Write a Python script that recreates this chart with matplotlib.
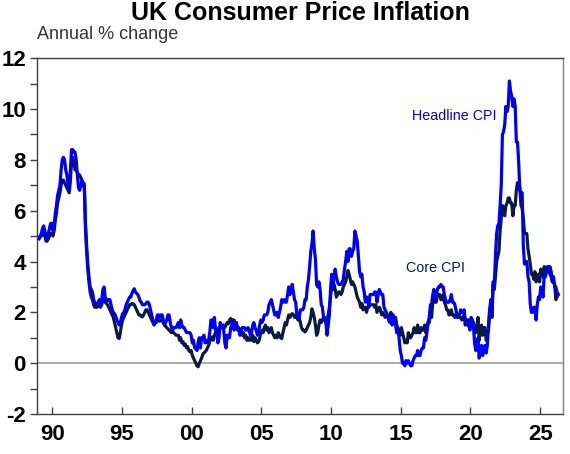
import numpy as np
import matplotlib
matplotlib.use("Agg")
import matplotlib.pyplot as plt

plt.rcParams['font.family'] = ['Liberation Sans', 'DejaVu Sans']
plt.rcParams['axes.unicode_minus'] = False

start_year = 1989

# Headline CPI, annual % change, monthly from Jan 1989
headline = [
    4.9, 5.0, 5.1, 5.3, 5.4, 5.2, 5.0, 4.9, 5.1, 5.3, 5.5, 5.5,   # 1989
    5.2, 5.4, 5.9, 6.2, 6.6, 6.8, 7.0, 7.6, 8.0, 8.1, 8.0, 7.6,   # 1990
    7.4, 7.0, 6.8, 7.6, 8.4, 8.4, 8.3, 8.3, 8.0, 7.4, 6.9, 6.8,   # 1991
    7.0, 7.2, 7.1, 7.05, 5.5, 4.6, 3.9, 3.4, 3.0, 2.9, 2.8, 2.5,  # 1992
    2.4, 2.3, 2.35, 2.4, 2.5, 2.3, 2.5, 2.9, 3.0, 2.6, 2.5, 2.45, # 1993
    2.5, 2.5, 2.3, 2.1, 2.0, 1.95, 1.85, 1.7, 1.6, 1.5, 1.6, 1.8, # 1994
    1.95, 2.0, 2.1, 2.3, 2.4, 2.5, 2.6, 2.6, 2.75, 2.85, 2.93, 2.8, # 1995
    2.75, 2.7, 2.6, 2.45, 2.4, 2.3, 2.3, 2.3, 2.34, 2.4, 2.4, 2.3, # 1996
    2.1, 1.9, 1.7, 1.5, 1.6, 1.7, 1.9, 1.9, 1.8, 1.9, 1.9, 1.7,   # 1997
    1.5, 1.6, 1.7, 1.9, 1.9, 1.6, 1.4, 1.3, 1.4, 1.4, 1.4, 1.5,   # 1998
    1.6, 1.4, 1.7, 1.5, 1.4, 1.4, 1.3, 1.2, 1.2, 1.2, 1.2, 1.1,   # 1999
    0.8, 0.9, 0.6, 0.6, 0.5, 0.8, 1.0, 0.6, 1.0, 1.0, 1.1, 0.8,   # 2000
    0.9, 0.8, 0.9, 1.2, 1.7, 1.7, 1.4, 1.8, 1.3, 1.2, 0.8, 1.0,   # 2001
    1.6, 1.4, 1.5, 1.3, 0.8, 0.6, 1.1, 1.0, 1.0, 1.4, 1.5, 1.7,   # 2002
    1.3, 1.6, 1.5, 1.4, 1.3, 1.1, 1.3, 1.4, 1.4, 1.4, 1.3, 1.3,   # 2003
    1.4, 1.3, 1.1, 1.2, 1.5, 1.6, 1.4, 1.3, 1.1, 1.2, 1.5, 1.7,   # 2004
    1.6, 1.7, 1.9, 1.9, 1.9, 2.0, 2.3, 2.4, 2.5, 2.3, 2.1, 1.9,   # 2005
    1.9, 2.0, 1.8, 2.0, 2.2, 2.5, 2.4, 2.5, 2.4, 2.4, 2.7, 3.0,   # 2006
    2.7, 2.8, 3.1, 2.8, 2.5, 2.4, 1.9, 1.8, 1.8, 2.1, 2.1, 2.1,   # 2007
    2.2, 2.5, 2.5, 3.0, 3.3, 3.8, 4.4, 4.7, 5.2, 4.5, 4.1, 3.1,   # 2008
    3.0, 3.2, 2.9, 2.3, 2.2, 1.8, 1.8, 1.6, 1.1, 1.5, 1.9, 2.9,   # 2009
    3.5, 3.0, 3.4, 3.7, 3.4, 3.2, 3.1, 3.1, 3.1, 3.2, 3.3, 3.7,   # 2010
    4.0, 4.4, 4.0, 4.5, 4.5, 4.2, 4.4, 4.5, 5.2, 5.0, 4.8, 4.2,   # 2011
    3.6, 3.4, 3.5, 3.0, 2.8, 2.4, 2.6, 2.5, 2.2, 2.7, 2.7, 2.7,   # 2012
    2.7, 2.8, 2.8, 2.4, 2.7, 2.9, 2.8, 2.7, 2.7, 2.2, 2.1, 2.0,   # 2013
    1.9, 1.7, 1.6, 1.8, 1.5, 1.9, 1.6, 1.5, 1.2, 1.3, 1.0, 0.5,   # 2014
    0.3, 0.0, 0.0, -0.1, 0.1, 0.0, 0.1, 0.0, -0.1, -0.1, 0.1, 0.2, # 2015
    0.3, 0.3, 0.5, 0.3, 0.3, 0.5, 0.6, 0.6, 1.0, 0.9, 1.2, 1.6,   # 2016
    1.8, 2.3, 2.3, 2.7, 2.9, 2.6, 2.6, 2.9, 3.0, 3.0, 3.1, 3.0,   # 2017
    3.0, 2.7, 2.5, 2.4, 2.4, 2.4, 2.5, 2.7, 2.4, 2.4, 2.3, 2.1,   # 2018
    1.8, 1.9, 1.9, 2.1, 2.0, 2.0, 2.1, 1.7, 1.7, 1.5, 1.5, 1.3,   # 2019
    1.8, 1.7, 1.5, 0.8, 0.5, 0.6, 1.0, 0.2, 0.5, 0.7, 0.3, 0.6,   # 2020
    0.7, 0.4, 0.7, 1.5, 2.1, 2.5, 2.0, 3.2, 3.1, 4.2, 5.1, 5.4,   # 2021
    5.5, 6.2, 7.0, 9.0, 9.1, 9.4, 10.1, 9.9, 10.1, 11.1, 10.7, 10.5, # 2022
    10.1, 10.4, 10.1, 8.7, 8.7, 7.9, 6.8, 6.7, 6.7, 4.6, 3.9, 4.0, # 2023
    4.0, 3.4, 3.2, 2.3, 2.0, 2.0, 2.2, 2.2, 1.7, 2.3, 2.6, 2.5,   # 2024
    3.0, 2.8, 2.6, 3.5, 3.4, 3.6, 3.8, 3.8, 3.8, 3.6, 3.2, 3.4,   # 2025
    3.0, 3.0, 2.8, 2.7,                                           # 2026
]

# Core CPI, annual % change, monthly from Jan 1989
core = [
    4.9, 5.0, 5.0, 5.1, 5.2, 5.0, 4.8, 4.8, 4.9, 5.0, 5.1, 5.1,   # 1989
    5.0, 5.2, 5.6, 5.9, 6.3, 6.5, 6.7, 7.0, 7.2, 7.2, 7.1, 7.0,   # 1990
    6.9, 6.8, 6.7, 7.2, 7.9, 8.1, 7.9, 7.6, 7.6, 7.5, 7.4, 7.4,   # 1991
    7.3, 7.1, 7.0, 6.9, 5.3, 4.4, 3.7, 3.2, 2.8, 2.6, 2.5, 2.3,   # 1992
    2.2, 2.2, 2.2, 2.25, 2.3, 2.2, 2.3, 2.5, 2.6, 2.4, 2.35, 2.3, # 1993
    2.2, 2.1, 2.0, 1.9, 1.8, 1.6, 1.4, 1.2, 1.0, 0.97, 1.2, 1.5,  # 1994
    1.7, 1.8, 1.9, 2.0, 2.1, 2.2, 2.3, 2.3, 2.35, 2.34, 2.3, 2.2, # 1995
    2.1, 2.0, 1.9, 1.9, 1.85, 1.82, 1.9, 2.0, 2.1, 2.1, 2.0, 1.9, # 1996
    1.8, 1.7, 1.6, 1.55, 1.6, 1.6, 1.7, 1.7, 1.65, 1.7, 1.69, 1.6, # 1997
    1.5, 1.45, 1.4, 1.35, 1.3, 1.25, 1.2, 1.23, 1.2, 1.15, 1.1, 1.1, # 1998
    1.1, 0.9, 1.0, 0.8, 0.85, 0.7, 0.75, 0.6, 0.65, 0.5, 0.45, 0.5, # 1999
    0.3, 0.2, 0.1, 0.0, -0.1, -0.14, 0.0, 0.1, 0.2, 0.35, 0.4, 0.45, # 2000
    0.5, 0.6, 0.7, 0.85, 1.0, 1.03, 0.9, 1.1, 1.2, 1.3, 1.35, 1.4, # 2001
    1.4, 1.5, 1.45, 1.5, 1.4, 1.5, 1.6, 1.55, 1.7, 1.76, 1.6, 1.7, # 2002
    1.69, 1.5, 1.6, 1.3, 1.4, 1.2, 1.3, 1.1, 1.2, 1.0, 1.1, 0.9,  # 2003
    1.0, 0.9, 1.0, 0.9, 1.1, 0.85, 1.0, 0.9, 0.8, 0.84, 1.0, 1.2, # 2004
    1.3, 1.2, 1.4, 1.5, 1.3, 1.4, 1.2, 1.3, 1.4, 1.2, 1.1, 1.0,   # 2005
    1.1, 1.0, 1.2, 1.1, 1.0, 0.97, 1.2, 1.4, 1.6, 1.5, 1.7, 1.9,  # 2006
    1.8, 1.9, 1.95, 1.9, 1.8, 1.9, 1.8, 1.7, 1.8, 1.6, 1.4, 1.3,  # 2007
    1.3, 1.23, 1.3, 1.4, 1.5, 1.6, 1.8, 2.14, 2.0, 1.8, 1.5, 1.1, # 2008
    1.2, 1.5, 1.7, 1.6, 1.7, 1.8, 1.7, 1.6, 1.7, 1.9, 2.2, 2.6,   # 2009
    3.0, 2.9, 3.1, 2.9, 2.6, 2.7, 2.8, 2.8, 2.7, 2.8, 3.0, 3.1,   # 2010
    3.2, 3.4, 3.65, 3.5, 3.3, 3.1, 3.2, 3.1, 3.0, 2.8, 2.6, 2.5,  # 2011
    2.4, 2.2, 2.35, 2.1, 2.2, 2.2, 2.0, 2.2, 2.3, 2.3, 2.3, 2.3,  # 2012
    2.3, 2.2, 2.3, 2.0, 2.1, 2.2, 2.1, 1.9, 2.0, 1.9, 1.8, 1.9,   # 2013
    1.9, 1.8, 1.7, 2.0, 1.6, 1.8, 1.7, 1.8, 1.5, 1.4, 1.2, 1.1,   # 2014
    1.4, 1.2, 1.0, 0.8, 0.9, 0.8, 1.2, 1.0, 1.0, 1.1, 1.2, 1.4,   # 2015
    1.2, 1.2, 1.5, 1.2, 1.2, 1.4, 1.3, 1.3, 1.5, 1.2, 1.4, 1.6,   # 2016
    1.6, 2.0, 1.8, 2.4, 2.6, 2.4, 2.4, 2.7, 2.7, 2.7, 2.5, 2.5,   # 2017
    2.7, 2.4, 2.3, 2.1, 2.1, 1.9, 1.9, 2.1, 1.9, 1.9, 1.8, 1.9,   # 2018
    1.9, 1.8, 1.8, 1.8, 1.7, 1.8, 1.9, 1.5, 1.7, 1.7, 1.7, 1.4,   # 2019
    1.6, 1.7, 1.6, 1.4, 1.2, 1.4, 1.8, 0.9, 1.3, 1.5, 1.1, 1.4,   # 2020
    1.4, 0.9, 1.1, 1.3, 2.0, 2.3, 1.8, 3.1, 2.9, 3.4, 4.0, 4.2,   # 2021
    4.4, 5.2, 5.7, 6.2, 5.9, 5.8, 6.2, 6.3, 6.5, 6.5, 6.3, 6.3,   # 2022
    5.8, 6.2, 6.2, 6.8, 7.1, 6.9, 6.9, 6.2, 6.1, 5.7, 5.1, 5.1,   # 2023
    5.1, 4.5, 4.2, 3.9, 3.5, 3.5, 3.3, 3.6, 3.2, 3.3, 3.5, 3.2,   # 2024
    3.7, 3.5, 3.4, 3.8, 3.5, 3.7, 3.8, 3.6, 3.5, 3.4, 3.2, 3.2,   # 2025
    3.1, 2.5, 2.6, 2.7,                                           # 2026
]

x_tick_years = [1990, 1995, 2000, 2005, 2010, 2015, 2020, 2025]
x_tick_labels = ['90', '95', '00', '05', '10', '15', '20', '25']
y_ticks = [-2, 0, 2, 4, 6, 8, 10, 12]

t_head = start_year + (np.arange(len(headline)) + 0.5) / 12.0
t_core = start_year + (np.arange(len(core)) + 0.5) / 12.0

fig = plt.figure(figsize=(5.7, 4.54), dpi=100)
ax = fig.add_axes([0.065, 0.088, 0.923, 0.784])

blue = '#0000F5'
navy = '#0B1A45'

ax.axhline(0, color='#A6A6A6', lw=1.3, zorder=1)
ax.plot(t_core, core, color=navy, lw=2.3, zorder=2, solid_joinstyle='round')
ax.plot(t_head, headline, color=blue, lw=2.3, zorder=3, solid_joinstyle='round')

ax.set_xlim(1988.9, 2026.65)
ax.set_ylim(-2, 12)
ax.set_yticks(y_ticks)
ax.set_yticks(np.arange(-2, 13, 1), minor=True)
ax.set_xticks(x_tick_years)
ax.set_xticklabels(x_tick_labels)

ax.tick_params(axis='y', which='both', direction='out', length=5, width=1,
               color='#404040', labelsize=16, pad=3)
ax.tick_params(axis='x', which='major', direction='in', length=5, width=1,
               color='#404040', labelsize=16, pad=7)
for lab in ax.get_xticklabels() + ax.get_yticklabels():
    lab.set_fontweight('bold')

for side in ['left', 'bottom', 'top', 'right']:
    ax.spines[side].set_linewidth(1.0)
    ax.spines[side].set_color('#404040')
ax.spines['right'].set_color('#808080')

ax.text(2018.84, 9.73, 'Headline CPI', color=blue, fontsize=10.3,
        ha='center', va='center')
ax.text(2017.47, 3.73, 'Core CPI', color=navy, fontsize=10.3,
        ha='center', va='center')

fig.text(0.527, 0.972, 'UK Consumer Price Inflation', fontsize=18,
         fontweight='bold', ha='center', va='center', color='black')
fig.text(0.065, 0.925, 'Annual % change', fontsize=13, ha='left',
         va='center', color='#333333')

fig.savefig('out.png', dpi=100)
